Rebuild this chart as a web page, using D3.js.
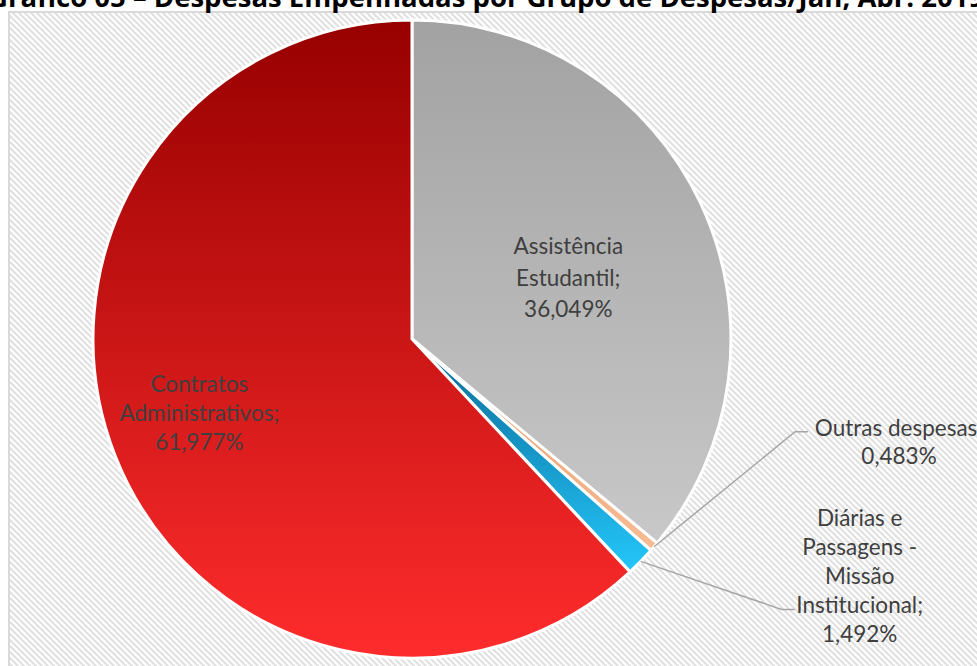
<!DOCTYPE html>
<html><head><meta charset="utf-8">
<script src="https://cdn.jsdelivr.net/npm/d3@7"></script>
<style>html,body{margin:0;padding:0;background:#fff;overflow:hidden}</style>
</head><body>
<svg id="chart" width="977" height="666"></svg>
<script>
const titleText = "Gráfico 05 – Despesas Empenhadas por Grupo de Despesas/Jan, Abr. 2019";
const categories = ["Assistência Estudantil", "Outras despesas", "Diárias e Passagens - Missão Institucional", "Contratos Administrativos"];
const values = [36.049, 0.483, 1.492, 61.977];
const labelLines = [
  ["Assistência", "Estudantil;", "36,049%"],
  ["Outras despesas;", "0,483%"],
  ["Diárias e", "Passagens -", "Missão", "Institucional;", "1,492%"],
  ["Contratos", "Administrativos;", "61,977%"]
];
const colorTop = ["#a2a2a2", "#e99a68", "#0a6a96", "#970000"];
const colorBottom = ["#c8c8c8", "#f7bc94", "#24c6fa", "#ff2c2c"];

const svg = d3.select("#chart");
const W = 977, H = 666;
const defs = svg.append("defs");

// striped background pattern
const pat = defs.append("pattern").attr("id","stripes").attr("patternUnits","userSpaceOnUse")
  .attr("width",6).attr("height",6);
pat.append("rect").attr("width",6).attr("height",6).attr("fill","#ffffff");
pat.append("path").attr("d","M-1,-1 L7,7 M-1,5 L1,7 M5,-1 L7,1").attr("stroke","#e0e0e0").attr("stroke-width",2);

svg.append("rect").attr("x",0).attr("y",0).attr("width",W).attr("height",H).attr("fill","#fff");
svg.append("rect").attr("x",9).attr("y",12).attr("width",W).attr("height",H)
  .attr("fill","url(#stripes)").attr("stroke","#d9d9d9").attr("stroke-width",2);

svg.append("text").attr("x",-12).attr("y",7)
  .attr("font-family","'Open Sans', 'Liberation Sans', sans-serif").attr("font-weight","bold")
  .attr("font-size",27.5).attr("fill","#000").text(titleText);

values.forEach((v,i)=>{
  const g = defs.append("linearGradient").attr("id","grad"+i).attr("x1",0).attr("y1",0).attr("x2",0).attr("y2",1);
  g.append("stop").attr("offset","0%").attr("stop-color",colorTop[i]);
  g.append("stop").attr("offset","100%").attr("stop-color",colorBottom[i]);
});

const cx = 412, cy = 339, R = 319;
const pie = d3.pie().sort(null).value(d=>d)(values);
const arc = d3.arc().innerRadius(0).outerRadius(R);
const gp = svg.append("g").attr("transform",`translate(${cx},${cy})`);
gp.selectAll("path").data(pie).join("path")
  .attr("d",arc).attr("fill",(d,i)=>`url(#grad${i})`)
  .attr("stroke","#fff").attr("stroke-width",3).attr("stroke-linejoin","miter");

const font = "Lato, 'Liberation Sans', sans-serif";
const fs = 22.5;
const txtColor = "#3f3f3f";

function drawLabel(lines, x, yc, lh){
  const t = gp.append("text").attr("text-anchor","middle").attr("font-family",font)
    .attr("font-size",fs).attr("fill",txtColor);
  const n = lines.length;
  lines.forEach((s,k)=>{
    t.append("tspan").attr("x",x).attr("y",yc + (k-(n-1)/2)*lh).attr("dy","0.35em").text(s);
  });
}

// inside labels
const inner0 = d3.arc().innerRadius(0).outerRadius(R*1.02).centroid(pie[0]);
drawLabel(labelLines[0], inner0[0]+9, inner0[1]+8, 31.5);
const inner3 = d3.arc().innerRadius(0).outerRadius(R*1.42).centroid(pie[3]);
drawLabel(labelLines[3], inner3[0]-2, inner3[1]-9, 29);

// outside labels with leader lines
function edgePoint(d){
  const a = (d.startAngle + d.endAngle)/2;
  return [Math.sin(a)*R, -Math.cos(a)*R];
}
const leader = "#a6a6a6";
// Outras despesas
{
  const p = edgePoint(pie[1]);
  const e = [p[0]+141, p[1]-115];
  gp.append("polyline").attr("points",[p,e,[e[0]+13,e[1]]].map(q=>q.join(",")).join(" "))
    .attr("fill","none").attr("stroke",leader).attr("stroke-width",1.5);
  drawLabel(labelLines[1], e[0]+104, e[1]+10, 28);
}
// Diárias
{
  const p = edgePoint(pie[2]);
  const e = [p[0]+141, p[1]+48];
  gp.append("polyline").attr("points",[p,e,[e[0]+13,e[1]]].map(q=>q.join(",")).join(" "))
    .attr("fill","none").attr("stroke",leader).attr("stroke-width",1.5);
  drawLabel(labelLines[2], e[0]+78, e[1]-33, 29);
}
</script>
</body></html>
